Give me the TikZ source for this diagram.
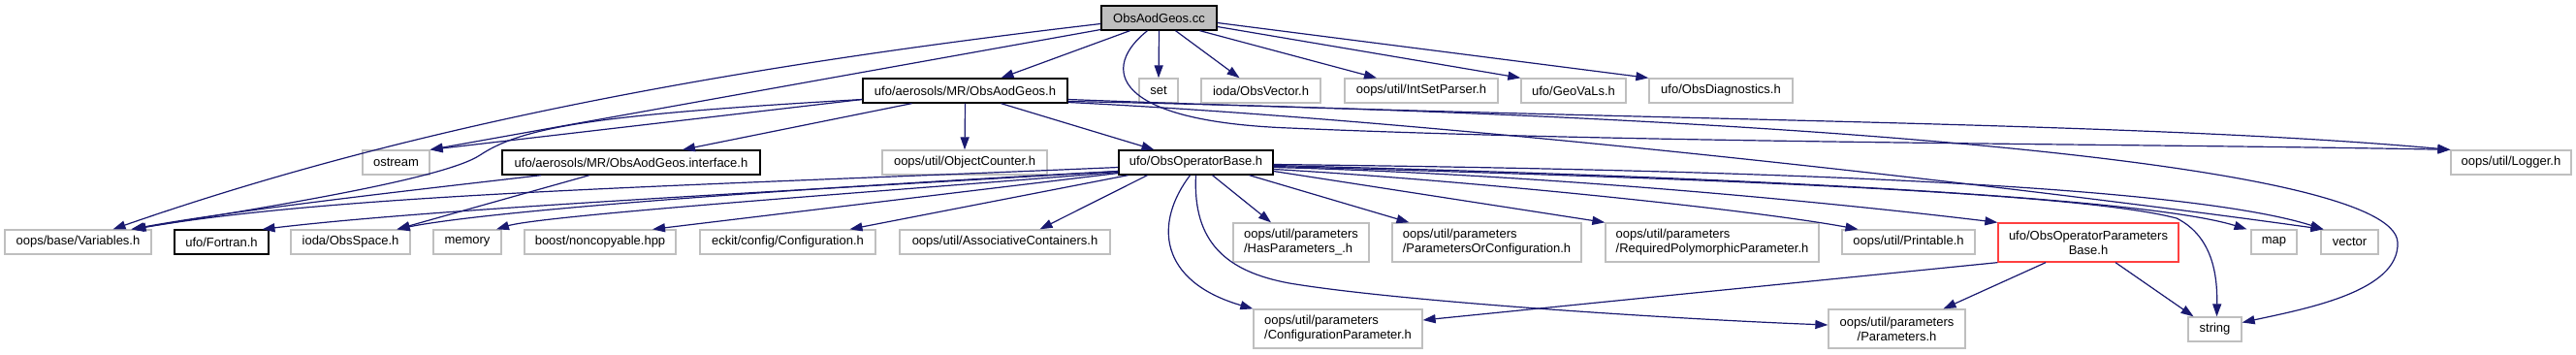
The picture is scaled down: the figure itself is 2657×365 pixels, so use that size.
\documentclass[tikz,border=0pt]{standalone}
\usepackage{fontspec}
\setmainfont{Liberation Sans}
\usepackage{tikz}
\usetikzlibrary{arrows.meta}
\definecolor{incedge}{HTML}{191970}
\definecolor{incgray}{HTML}{BFBFBF}
\definecolor{incred}{HTML}{FF4040}

\begin{document}
\begin{tikzpicture}[x=1pt, y=-1pt,
  file/.style={draw=incgray, line width=1.3pt, fill=white, minimum height=25pt, inner sep=0pt,
    font=\fontsize{13pt}{15pt}\selectfont},
  docfile/.style={file, draw=black},
  rootfile/.style={file, draw=black, fill=incgray},
  twoline/.style={file, align=left, minimum height=40pt},
  truncfile/.style={file, draw=incred, align=center, minimum height=40pt},
  inc/.style={draw=incedge, line width=1.2pt, -{Triangle[length=13pt,width=9pt]}}]
  \useasboundingbox (0,0) rectangle (2657,365);

  % row 0 and 1
  \node[rootfile, minimum width=119pt] (cc) at (1195.5,18.5) {ObsAodGeos.cc};
  \node[docfile, minimum width=211pt] (aodh) at (995.5,93.5) {ufo/aerosols/MR/ObsAodGeos.h};
  \node[file, minimum width=40pt] (set) at (1195,93.5) {set};
  \node[file, minimum width=123pt] (obsvec) at (1300.5,93.5) {ioda/ObsVector.h};
  \node[file, minimum width=158pt] (intset) at (1466,93.5) {oops/util/IntSetParser.h};
  \node[file, minimum width=108pt] (geovals) at (1623,93.5) {ufo/GeoVaLs.h};
  \node[file, minimum width=148pt] (obsdiag) at (1775,93.5) {ufo/ObsDiagnostics.h};

  % row 2
  \node[file, minimum width=69pt] (ostream) at (408.5,167.5) {ostream};
  \node[docfile, minimum width=266pt] (iface) at (651,167.5) {ufo/aerosols/MR/ObsAodGeos.interface.h};
  \node[file, minimum width=170pt] (objcnt) at (995,167.5) {oops/util/ObjectCounter.h};
  \node[docfile, minimum width=159pt] (opbase) at (1233.5,167.5) {ufo/ObsOperatorBase.h};
  \node[file, minimum width=124pt] (logger) at (2590,167.5) {oops/util/Logger.h};

  % row 3
  \node[file, minimum width=151pt] (vars) at (80.5,249.5) {oops/base/Variables.h};
  \node[docfile, minimum width=97pt] (fortran) at (228.5,249.5) {ufo/Fortran.h};
  \node[file, minimum width=123pt] (obsspace) at (361.5,249.5) {ioda/ObsSpace.h};
  \node[file, minimum width=70pt] (memory) at (482,249.5) {memory};
  \node[file, minimum width=156pt] (noncopy) at (619,249.5) {boost/noncopyable.hpp};
  \node[file, minimum width=181pt] (eckit) at (812.5,249.5) {eckit/config/Configuration.h};
  \node[file, minimum width=217pt] (assoc) at (1036.5,249.5) {oops/util/AssociativeContainers.h};
  \node[twoline, minimum width=140pt] (haspar) at (1342,250) {oops/util/parameters\\/HasParameters\_.h};
  \node[twoline, minimum width=195pt] (parorconf) at (1533.5,250) {oops/util/parameters\\/ParametersOrConfiguration.h};
  \node[twoline, minimum width=220pt] (reqpoly) at (1766,250) {oops/util/parameters\\/RequiredPolymorphicParameter.h};
  \node[file, minimum width=137pt] (printable) at (1968.5,249.5) {oops/util/Printable.h};
  \node[truncfile, minimum width=186pt] (oppar) at (2154,250) {ufo/ObsOperatorParameters\\Base.h};
  \node[file, minimum width=47pt] (map) at (2345.5,249.5) {map};
  \node[file, minimum width=59pt] (vector) at (2423.5,249.5) {vector};

  % row 4
  \node[twoline, minimum width=174pt] (confpar) at (1380,339) {oops/util/parameters\\/ConfigurationParameter.h};
  \node[twoline, minimum width=141pt, align=center] (params) at (1956.5,339) {oops/util/parameters\\/Parameters.h};
  \node[file, minimum width=55pt] (string) at (2284.5,339.5) {string};

  % includes of ObsAodGeos.cc
  \draw[inc] ([yshift=-6pt]cc.west) .. controls (736,71) and (417,132) .. ([xshift=36pt]vars.north);
  \draw[inc] ([yshift=-12pt]cc.west) -- (ostream.north east);
  \draw[inc] ([xshift=-30pt]cc.south) -- ([xshift=37pt]aodh.north);
  \draw[inc] (cc.south) -- (set.north);
  \draw[inc] ([xshift=17pt]cc.south) -- ([xshift=-22pt]obsvec.north);
  \draw[inc] ([xshift=42pt]cc.south) -- ([xshift=-46pt]intset.north);
  \draw[inc] ([yshift=-9pt]cc.east) -- (geovals.north west);
  \draw[inc] ([yshift=-5pt]cc.east) -- (obsdiag.north west);
  \draw[inc] ([xshift=-12pt]cc.south) .. controls (1135,70) and (1145,125) .. (1330,132)
    .. controls (1700,148) and (2200,148) .. (logger.north west);

  % includes of ObsAodGeos.h
  \draw[inc] ([yshift=-9pt]aodh.west) -- (ostream.north east);
  \draw[inc] ([yshift=-9pt]aodh.west) .. controls (620,118) and (540,130) .. (495,160)
    .. controls (460,183) and (300,210) .. ([xshift=55pt]vars.north);
  \draw[inc] ([xshift=-55pt]aodh.south) -- ([xshift=53pt]iface.north);
  \draw[inc] (aodh.south) -- (objcnt.north);
  \draw[inc] ([xshift=37pt]aodh.south) -- ([xshift=-43pt]opbase.north);
  \draw[inc] ([yshift=-9pt]aodh.east) .. controls (1700,125) and (2200,125) .. (logger.north west);
  \draw[inc] ([yshift=-11pt]aodh.east) .. controls (1800,118) and (2470,165) .. (2473,250)
    .. controls (2475,300) and (2380,318) .. ([yshift=7pt]string.east);
  \draw[inc] ([yshift=-12pt]aodh.east) .. controls (1500,125) and (2100,195) .. ([xshift=-27pt]vector.north);

  % includes of ObsAodGeos.interface.h
  \draw[inc] ([xshift=-93pt]iface.south) .. controls (480,190) and (250,215) .. ([xshift=55pt]vars.north);
  \draw[inc] ([xshift=-43pt]iface.south) -- ([xshift=48pt]obsspace.north);

  % includes of ObsOperatorBase.h
  \draw[inc] ([yshift=-5pt]opbase.west) .. controls (700,192) and (350,200) .. ([xshift=57pt]vars.north);
  \draw[inc] ([yshift=-9pt]opbase.west) .. controls (800,198) and (450,215) .. ([xshift=42pt]fortran.north);
  \draw[inc] ([yshift=-9pt]opbase.west) .. controls (800,195) and (500,218) .. ([xshift=48pt]obsspace.north);
  \draw[inc] ([yshift=-10pt]opbase.west) .. controls (900,198) and (560,222) .. ([xshift=30pt]memory.north);
  \draw[inc] ([yshift=-11pt]opbase.west) -- ([xshift=54pt]noncopy.north);
  \draw[inc] ([xshift=-70pt]opbase.south) -- ([xshift=64pt]eckit.north);
  \draw[inc] ([xshift=-50pt]opbase.south) -- ([xshift=36pt]assoc.north);
  \draw[inc] ([xshift=17pt]opbase.south) -- ([xshift=-31pt]haspar.north);
  \draw[inc] ([xshift=-6pt]opbase.south) .. controls (1190,230) and (1195,290) .. (confpar.north west);
  \draw[inc] (opbase.south) .. controls (1230,250) and (1265,280) .. (1330,292)
    .. controls (1450,312) and (1750,330) .. ([yshift=4pt]params.west);
  \draw[inc] ([xshift=55pt]opbase.south) -- ([xshift=-80pt]parorconf.north);
  \draw[inc] ([yshift=-9pt]opbase.east) -- (reqpoly.north west);
  \draw[inc] ([yshift=-7pt]opbase.east) .. controls (1500,185) and (1800,215) .. ([xshift=-52pt]printable.north);
  \draw[inc] ([yshift=-5pt]opbase.east) .. controls (1600,180) and (1900,210) .. (oppar.north west);
  \draw[inc] ([yshift=-3pt]opbase.east) .. controls (1700,180) and (2200,200) .. ([xshift=-28pt]map.north);
  \draw[inc] ([yshift=-2pt]opbase.east) .. controls (1800,175) and (2250,190) .. ([xshift=-27pt]vector.north);
  \draw[inc] ([yshift=-4pt]opbase.east) .. controls (1800,185) and (2150,200) .. (2245,225)
    .. controls (2285,245) and (2287,290) .. ([xshift=2pt]string.north);

  % includes of ObsOperatorParametersBase.h
  \draw[inc] (oppar.south west) -- ([yshift=9pt]confpar.east);
  \draw[inc] ([xshift=-44pt]oppar.south) -- ([xshift=48pt]params.north);
  \draw[inc] ([xshift=28pt]oppar.south) -- ([xshift=-22pt]string.north);
\end{tikzpicture}
\end{document}
